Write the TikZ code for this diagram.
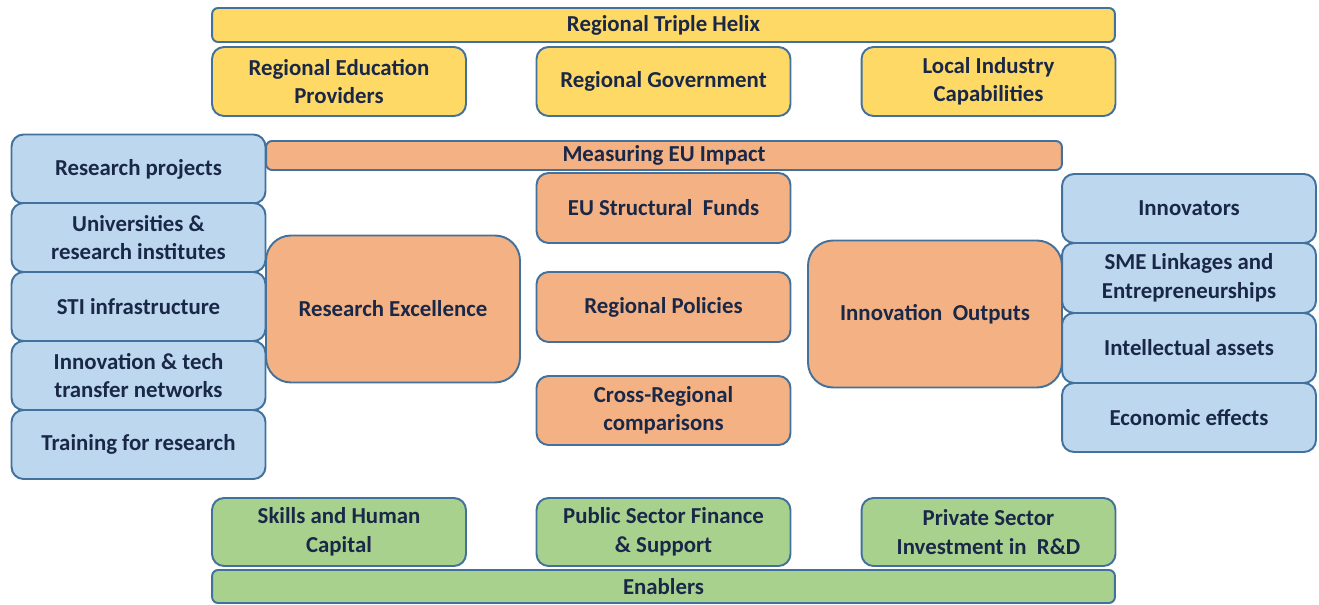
\documentclass[tikz,border=0pt]{standalone}
\usepackage{fontspec}
\setmainfont{Carlito}
\usepackage{xcolor}
\usepackage{tikz}

\definecolor{edge}{HTML}{41719C}
\definecolor{ink}{HTML}{1A2848}
\definecolor{helix}{HTML}{FFD966}
\definecolor{impact}{HTML}{F4B183}
\definecolor{research}{HTML}{BDD7EE}
\definecolor{enabler}{HTML}{A9D18E}

\tikzset{
  box/.style={draw=edge, line width=1.1pt, rounded corners=0.24cm, text=ink, align=center,
    inner sep=0pt, font=\fontsize{13}{16.2}\selectfont\bfseries},
  bar/.style={box, rounded corners=0.12cm},
  bigbox/.style={box, rounded corners=0.5cm, minimum width=5.08cm, minimum height=2.94cm},
  col/.style={box, minimum width=5.08cm, minimum height=1.38cm}
}

\begin{document}
\begin{tikzpicture}[x=0.02cm, y=-0.02cm]
\useasboundingbox (0,0) rectangle (1319,605);

\begin{scope}
\node[bar, fill=helix, minimum width=18.06cm, minimum height=0.68cm] (triple) at (663.5,25) {Regional Triple Helix};
\node[col, fill=helix] (edu) at (339,81.5) {Regional Education\\Providers};
\node[col, fill=helix] (gov) at (663.5,81.5) {Regional Government};
\node[col, fill=helix] (ind) at (988.5,81.5) {Local Industry\\Capabilities};
\end{scope}

\begin{scope}
\node[col, fill=research] (proj) at (138.5,169) {Research projects};
\node[col, fill=research] (univ) at (138.5,237.5) {Universities \&\\research institutes};
\node[col, fill=research] (sti) at (138.5,306.5) {STI infrastructure};
\node[col, fill=research] (tech) at (138.5,375.5) {Innovation \& tech\\transfer networks};
\node[col, fill=research] (train) at (138.5,444.5) {Training for research};
\end{scope}

\begin{scope}
\node[bar, fill=impact, minimum width=15.92cm, minimum height=0.58cm] (measure) at (664,155.5) {Measuring EU Impact};
\node[bigbox, fill=impact] (excel) at (393,309) {Research Excellence};
\node[col, fill=impact, minimum height=1.4cm] (funds) at (663.5,208) {EU Structural\ \ Funds};
\node[col, fill=impact, minimum height=1.4cm] (policy) at (663.5,307) {Regional Policies};
\node[col, fill=impact] (cross) at (663.5,410.5) {Cross-Regional\\comparisons};
\node[bigbox, fill=impact] (outputs) at (935,314) {Innovation\ \ Outputs};
\end{scope}

\begin{scope}
\node[col, fill=research] (innov) at (1189,208.5) {Innovators};
\node[col, fill=research, minimum height=1.4cm] (sme) at (1189,278) {SME Linkages and\\Entrepreneurships};
\node[col, fill=research, minimum height=1.4cm] (assets) at (1189,348) {Intellectual assets};
\node[col, fill=research] (econ) at (1189,417.5) {Economic effects};
\end{scope}

\begin{scope}
\node[col, fill=enabler, minimum height=1.36cm] (skills) at (339,532) {Skills and Human\\Capital};
\node[col, fill=enabler, minimum height=1.36cm] (public) at (663.5,532) {Public Sector Finance\\\& Support};
\node[col, fill=enabler, minimum height=1.36cm] (private) at (988.5,532) {Private Sector\\Investment in\ \ R\&D};
\node[bar, fill=enabler, minimum width=18.06cm, minimum height=0.66cm] (enable) at (663.5,586.5) {Enablers};
\end{scope}

\end{tikzpicture}
\end{document}
